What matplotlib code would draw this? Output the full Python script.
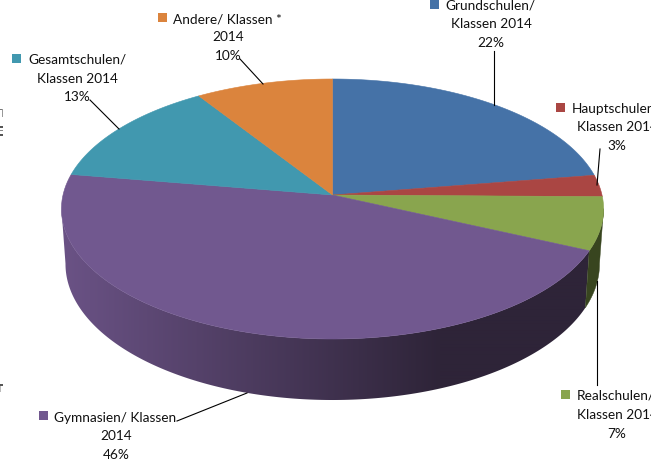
import matplotlib
matplotlib.use("Agg")
import matplotlib.pyplot as plt
from matplotlib.patches import Polygon, Rectangle
from matplotlib.colors import to_rgb
import numpy as np

# clockwise from 12 o'clock
schools = ["Grundschulen", "Hauptschulen", "Realschulen", "Gymnasien", "Gesamtschulen", "Andere"]
shares = [22.5, 2.7, 6.6, 45.8, 13.3, 9.1]
colors = ["#4572a7", "#aa4643", "#89a54e", "#71588f", "#4198af", "#db843d"]
wall_left = "#6a5285"
wall_right = "#2e2438"
wall_green = "#38451f"

label_lines = [
    ["Grundschulen/", "Klassen 2014", "22%"],
    ["Hauptschulen/", "Klassen 2014", "3%"],
    ["Realschulen/", "Klassen 2014", "7%"],
    ["Gymnasien/ Klassen", "2014", "46%"],
    ["Gesamtschulen/", "Klassen 2014", "13%"],
    ["Andere/ Klassen *", "2014", "10%"],
]

cx, cy = 332.5, 196
k = 0.1077
a = 128.5
b = 269.5


def top_rim(t):
    # t in degrees clockwise from the top of the pie
    r = np.radians(t)
    X = np.sin(r)
    Y = np.cos(r)
    d = 1 + k * Y
    return cx + b * X / d, cy - a * Y / d


def bottom_rim(t):
    x, y = top_rim(t)
    return cx + (x - cx) * 0.985, 265 + (y - 210) * 136 / 130


def wall_poly(t0, t1):
    ts = np.linspace(t0, t1, 200)
    xt, yt = top_rim(ts)
    xb, yb = bottom_rim(ts)
    return list(zip(xt, yt)) + list(zip(xb[::-1], yb[::-1]))


fig = plt.figure(figsize=(6.62, 4.64), dpi=100)
ax = fig.add_axes([0, 0, 1, 1])

edges = np.concatenate([[0], np.cumsum(shares)]) / sum(shares) * 360

# side wall, only the part of the rim that faces us
wall_start, wall_end = 96, 264

xgrad = np.arange(60, 610)
f = np.clip((xgrad - 65) / 375, 0, 1)[None, :, None]
grad = np.array(to_rgb(wall_left)) + (np.array(to_rgb(wall_right)) - np.array(to_rgb(wall_left))) * f
im = ax.imshow(grad, extent=(60, 610, 420, 200), aspect="auto", interpolation="bilinear")
purple_wall = Polygon(wall_poly(edges[3], wall_end), closed=True, transform=ax.transData)
im.set_clip_path(purple_wall)

ax.add_patch(Polygon(wall_poly(wall_start, edges[3]), closed=True, facecolor=wall_green,
                     edgecolor=wall_green, linewidth=0.3))

ax.set_xlim(0, 662)
ax.set_ylim(464, 0)
ax.axis("off")

# top surface
for i in range(len(shares)):
    ts = np.linspace(edges[i], edges[i + 1], 100)
    xs, ys = top_rim(ts)
    pts = [(cx, cy)] + list(zip(xs, ys))
    ax.add_patch(Polygon(pts, closed=True, facecolor=colors[i], edgecolor=colors[i], linewidth=0.4))

# leader lines
leaders = [
    ((494, 52), (494, 106)),
    ((600, 150), (597, 186)),
    ((597, 282), (597, 386)),
    ((177, 422), (247, 394)),
    ((90, 101), (119, 130)),
    ((240, 60), (263, 85)),
]
for p0, p1 in leaders:
    ax.plot([p0[0], p1[0]], [p0[1], p1[1]], color="black", lw=0.8)

# labels: marker corner, first line start x, first line y, centre x of lines 2 and 3, line ys
label_pos = [
    (430, 1, 445, 491, 6, 24, 43),
    (556, 104, 572, 617, 109, 127, 146),
    (561, 391, 577, 617, 396, 415, 434),
    (39, 412, 54, 116, 418, 436, 455),
    (12, 55, 28, 77, 60, 79, 97),
    (158, 14, 173, 228, 19, 37, 56),
]
font = "Lato"
size = 9.8
ink = "#111111"
for i, (mx, my, tx, ccx, y1, y2, y3) in enumerate(label_pos):
    ax.add_patch(Rectangle((mx, my), 9, 9, facecolor=colors[i], edgecolor="none"))
    ax.text(tx, y1, label_lines[i][0], family=font, fontsize=size, color=ink, ha="left", va="center")
    ax.text(ccx, y2, label_lines[i][1], family=font, fontsize=size, color=ink, ha="center", va="center")
    ax.text(ccx, y3, label_lines[i][2], family=font, fontsize=size, color=ink, ha="center", va="center")

# unreadable specks of cut off text at the left edge of the screenshot
specks = [
    (0, 110, 3, 1, "#777777"), (2, 110, 1, 8, "#999999"),
    (0, 127, 3, 2, "#555555"), (0, 131, 3, 1, "#888888"), (0, 135, 3, 2, "#555555"),
    (0, 385, 3, 2, "#555555"), (0, 387, 1, 6, "#bbbbbb"),
]
for sx, sy, sw, sh, scol in specks:
    ax.add_patch(Rectangle((sx, sy), sw, sh, facecolor=scol, edgecolor="none"))

# the screenshot stops at x=651
ax.add_patch(Rectangle((651, 0), 11, 464, facecolor="white", edgecolor="none", zorder=10))

fig.savefig("out.png", dpi=100)
